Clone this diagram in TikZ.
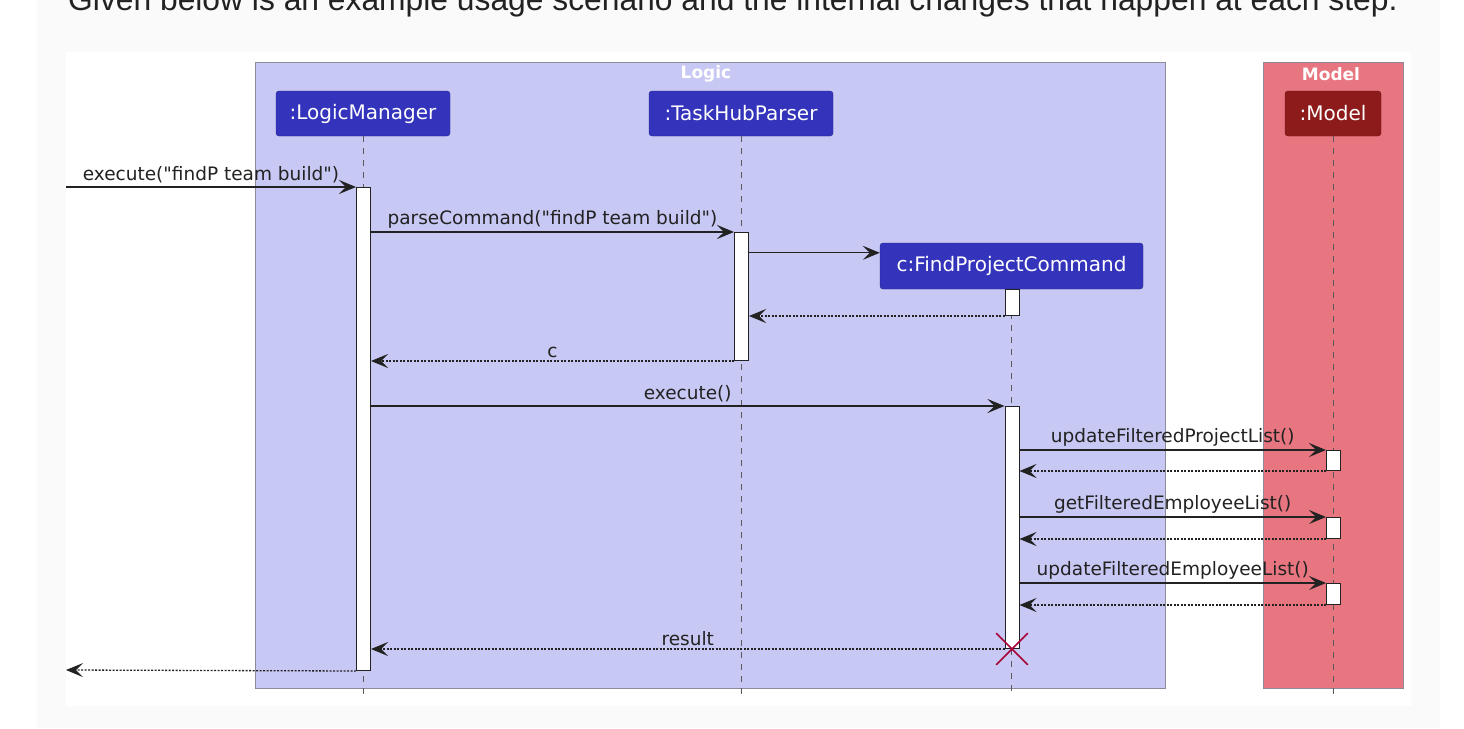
\documentclass[tikz,border=0pt]{standalone}
\usepackage{fontspec}
\setmainfont{DejaVu Sans}[Ligatures=TeXOff]
\newfontfamily\headfont{Liberation Sans}
\usetikzlibrary{arrows.meta, positioning, calc, shapes.misc}
\definecolor{pagegray}{RGB}{250,250,250}
\definecolor{logicfill}{RGB}{200,200,244}
\definecolor{modelfill}{RGB}{232,118,128}
\definecolor{partblue}{RGB}{51,51,187}
\definecolor{partred}{RGB}{142,27,27}
\definecolor{framegray}{RGB}{140,140,152}
\definecolor{linegray}{RGB}{90,90,90}
\definecolor{crossred}{RGB}{168,0,54}
\definecolor{inkblack}{RGB}{34,34,34}

\begin{document}
\begin{tikzpicture}[x=1pt, y=-1pt,
  part/.style={draw=#1!75!black, fill=#1, rounded corners=3pt, text=white,
    font=\fontsize{20}{24}\selectfont, minimum height=45pt, inner sep=0pt},
  act/.style={draw=inkblack, fill=white, line width=1pt, minimum width=14pt, inner sep=0pt, anchor=north},
  lifeline/.style={linegray, dash pattern=on 6pt off 6pt, line width=0.8pt},
  msg/.style={-{Stealth[length=17pt, width=14pt, inset=7pt]}, inkblack, line width=1.3pt},
  ret/.style={msg, dash pattern=on 2pt off 1.5pt},
  lbl/.style={font=\fontsize{18.5}{22}\selectfont, text=inkblack, inner sep=3pt, above},
  grp/.style={draw=framegray, line width=1pt},
  grptitle/.style={text=white, font=\bfseries\fontsize{17}{20}\selectfont}]
% Page and frame
\useasboundingbox (0,0) rectangle (1464,728);
\fill[pagegray] (37,0) rectangle (1440,728);
\fill[white] (66,52) rectangle (1411,706);
\begin{scope}
  \clip (0,0) rectangle (1464,728);
  \node[anchor=base west, inner sep=0pt, text=inkblack, font=\headfont\fontsize{31.8}{36}\selectfont] (head) at (68,10)
    {Given below is an example usage scenario and the internal changes that happen at each step.};
\end{scope}
% Groups
\draw[grp, fill=logicfill] (255,62) rectangle (1165,688);
\node[grptitle] (logicT) at (706,74) {Logic};
\draw[grp, fill=modelfill] (1263,62) rectangle (1403,688);
\node[grptitle] (modelT) at (1331,74) {Model};
% Participants
\node[part=partblue, minimum width=174pt] (lm) at (363,113.5) {:LogicManager};
\node[part=partblue, minimum width=184pt] (tp) at (741,113.5) {:TaskHubParser};
\node[part=partred, minimum width=96pt] (md) at (1333,113.5) {:Model};
\node[part=partblue, minimum width=263pt, minimum height=46pt] (fc) at (1011.5,266) {c:FindProjectCommand};
% Lifelines
\coordinate (endL) at (0,695);
\draw[lifeline] (lm.south) -- (lm.south |- endL);
\draw[lifeline] (tp.south) -- (tp.south |- endL);
\draw[lifeline] (md.south) -- (md.south |- endL);
\draw[lifeline] (fc.south) -- (fc.south |- endL);
% Activations
\node[act, minimum height=483pt] (lmA) at (363.5,187) {};
\node[act, minimum height=128pt] (tpA) at (741.5,232) {};
\node[act, minimum height=26pt] (fcA0) at (1012,289) {};
\node[act, minimum height=242pt] (fcA) at (1012,406) {};
\node[act, minimum height=20pt] (mA1) at (1333.5,450) {};
\node[act, minimum height=21pt] (mA2) at (1333.5,517) {};
\node[act, minimum height=21pt] (mA3) at (1333.5,583) {};
% Messages
\coordinate (inL) at (66,187);
\coordinate (outL) at (66,670);
\draw[msg] (inL) -- node[lbl] {execute("findP team build")} (lmA.north west);
\draw[msg] (lmA.east |- tpA.north) -- node[lbl] {parseCommand("findP team build")} (tpA.north west);
\draw[msg] (tpA.east |- fc.north) ++(0,10) coordinate (mkS) -- (fc.west |- mkS);
\draw[ret] (fcA0.south west) -- (tpA.east |- fcA0.south);
\draw[ret] (tpA.south west) -- node[lbl] {c} (lmA.east |- tpA.south);
\draw[msg] (lmA.east |- fcA.north) -- node[lbl] {execute()} (fcA.north west);
\draw[msg] (fcA.east |- mA1.north) -- node[lbl] {updateFilteredProjectList()} (mA1.north west);
\draw[ret] (mA1.south west) -- (fcA.east |- mA1.south);
\draw[msg] (fcA.east |- mA2.north) -- node[lbl] {getFilteredEmployeeList()} (mA2.north west);
\draw[ret] (mA2.south west) -- (fcA.east |- mA2.south);
\draw[msg] (fcA.east |- mA3.north) -- node[lbl] {updateFilteredEmployeeList()} (mA3.north west);
\draw[ret] (mA3.south west) -- (fcA.east |- mA3.south);
\draw[ret] (fcA.south west) -- node[lbl] {result} (lmA.east |- fcA.south);
\draw[ret] (lmA.south west) -- (outL);
% Destroy
\node[cross out, draw=crossred, line width=1.6pt, minimum size=30pt, inner sep=0pt] (xC) at (fcA.south) {};
\end{tikzpicture}
\end{document}
